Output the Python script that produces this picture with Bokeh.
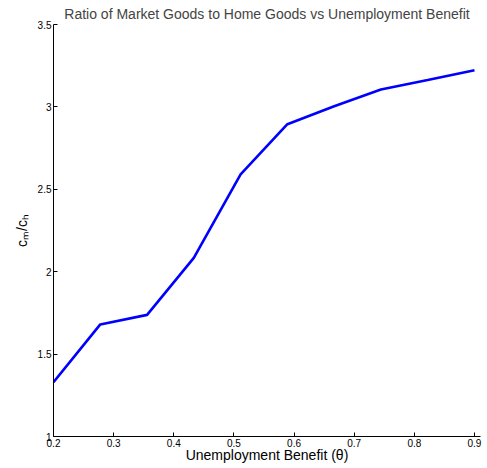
from bokeh.plotting import figure
from bokeh.models import Range1d, FixedTicker
from bokeh.embed import file_html
from bokeh.resources import INLINE

# Data
theta = [0.2, 0.2778, 0.3556, 0.4333, 0.5111, 0.5889, 0.6667, 0.7444, 0.8222, 0.9]
ratio = [1.33, 1.68, 1.738, 2.084, 2.59, 2.895, 3.004, 3.105, 3.163, 3.223]

x_ticks = [0.2, 0.3, 0.4, 0.5, 0.6, 0.7, 0.8, 0.9]
x_tick_labels = ["0.2", "0.3", "0.4", "0.5", "0.6", "0.7", "0.8", "0.9"]
y_ticks = [1, 1.5, 2, 2.5, 3, 3.5]
y_tick_labels = ["1", "1.5", "2", "2.5", "3", "3.5"]

FONT = "Liberation Sans"

p = figure(
    frame_width=427, frame_height=412,
    x_range=Range1d(0.2, 0.91), y_range=Range1d(1, 3.5),
    title="Ratio of Market Goods to Home Goods vs Unemployment Benefit",
    output_backend="svg", toolbar_location=None,
    min_border_left=53, min_border_top=24, min_border_right=3, min_border_bottom=20,
)

p.line(theta, ratio, line_color="#0000ff", line_width=2.6)

p.title.text_font = FONT
p.title.text_font_size = "14px"
p.title.text_font_style = "normal"
p.title.align = "center"
p.title.standoff = 6

p.outline_line_color = None
p.xgrid.visible = False
p.ygrid.visible = False

for ax in (p.xaxis[0], p.yaxis[0]):
    ax.major_tick_in = 4
    ax.major_tick_out = 0
    ax.minor_tick_line_color = None
    ax.axis_line_color = "black"
    ax.major_tick_line_color = "black"
    ax.major_label_text_font = FONT
    ax.major_label_text_font_size = "10px"
    ax.major_label_text_color = "black"
    ax.axis_label_text_font = FONT
    ax.axis_label_text_font_size = "14px"
    ax.axis_label_text_font_style = "normal"
    ax.axis_label_text_color = "black"
    ax.major_label_standoff = 2

p.xaxis[0].axis_label_standoff = -3
p.yaxis[0].axis_label_standoff = 5

p.xaxis[0].ticker = FixedTicker(ticks=x_ticks)
p.xaxis[0].major_label_overrides = dict(zip(x_ticks, x_tick_labels))
p.yaxis[0].ticker = FixedTicker(ticks=y_ticks)
p.yaxis[0].major_label_overrides = dict(zip(y_ticks, y_tick_labels))

p.xaxis[0].axis_label = "Unemployment Benefit (θ)"
p.yaxis[0].axis_label = "cₘ/cₕ"

open("out.html", "w").write(file_html(p, INLINE))
